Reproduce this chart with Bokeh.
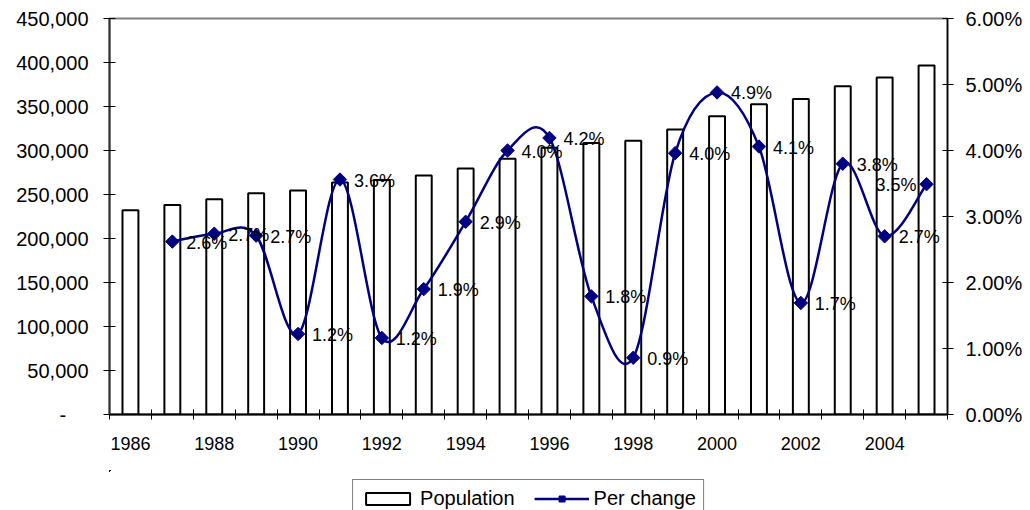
import numpy as np
from bokeh.plotting import figure
from bokeh.layouts import column
from bokeh.models import (Range1d, LinearAxis, FixedTicker, PrintfTickFormatter,
                          NumeralTickFormatter, Legend, LegendItem, ColumnDataSource)
from bokeh.core.properties import value
from bokeh.embed import file_html
from bokeh.resources import INLINE

# ---- data -------------------------------------------------------------
years = list(range(1986, 2006))
population = [232000, 238000, 244500, 251500, 254500, 263500, 266500, 271500,
              279500, 290500, 303000, 308500, 311000, 324000, 339000, 352500,
              358500, 373000, 383000, 396500]
# yearly percentage change (no value for the first year)
per_change = [None, 2.62, 2.74, 2.71, 1.22, 3.56, 1.16, 1.90, 2.92, 4.00,
              4.19, 1.79, 0.86, 3.96, 4.88, 4.06, 1.69, 3.80, 2.70, 3.49]
tick_years = years[::2]

FONT = "Liberation Sans"
NAVY = "#000080"

n = len(years)
xs = [i + 0.5 for i in range(n)]

bar_src = ColumnDataSource(dict(x=xs, top=population))
px = np.array([xs[i] for i in range(n) if per_change[i] is not None])
py = np.array([v for v in per_change if v is not None])
labels = [f"{v:.1f}%" for v in py]
pt_src = ColumnDataSource(dict(x=px, y=py))

p = figure(width=1030, height=470, output_backend="svg", toolbar_location=None,
           x_range=Range1d(0, n), y_range=Range1d(0, 450000),
           min_border_left=109, min_border_right=83, min_border_top=18,
           min_border_bottom=56)
p.extra_y_ranges = {"pct": Range1d(0, 6)}
p.xgrid.visible = False
p.ygrid.visible = False
p.outline_line_color = "#808080"
p.outline_line_width = 2
p.background_fill_color = "white"
p.border_fill_color = "white"

# ---- population bars ----------------------------------------------------
p.vbar(x="x", top="top", width=0.38, source=bar_src,
       fill_color="white", line_color="black", line_width=2)

# ---- smoothed percentage-change curve ---------------------------------
m = len(px)
x0, y0, x1, y1, cx0, cy0, cx1, cy1 = ([] for _ in range(8))
for k in range(m - 1):
    a = max(k - 1, 0)
    d = min(k + 2, m - 1)
    x0.append(px[k]); y0.append(py[k])
    x1.append(px[k + 1]); y1.append(py[k + 1])
    cx0.append(px[k] + (px[k + 1] - px[a]) / 6)
    cy0.append(py[k] + (py[k + 1] - py[a]) / 6)
    cx1.append(px[k + 1] - (px[d] - px[k]) / 6)
    cy1.append(py[k + 1] - (py[d] - py[k]) / 6)
curve_src = ColumnDataSource(dict(x0=x0, y0=y0, x1=x1, y1=y1,
                                  cx0=cx0, cy0=cy0, cx1=cx1, cy1=cy1))
p.bezier(x0="x0", y0="y0", x1="x1", y1="y1", cx0="cx0", cy0="cy0",
         cx1="cx1", cy1="cy1", source=curve_src, y_range_name="pct",
         line_color=NAVY, line_width=2.5)
p.scatter(x="x", y="y", source=pt_src, y_range_name="pct",
          marker="square", angle=np.pi / 4, size=9.5,
          fill_color=NAVY, line_color=NAVY)

# value labels to the right of each point; the last one sits next to the
# right axis, so it goes on the left of its point to stay inside the frame
inner_src = ColumnDataSource(dict(x=px[:-1], y=py[:-1], label=labels[:-1]))
p.text(x="x", y="y", text="label", source=inner_src, y_range_name="pct",
       x_offset=14, y_offset=1, text_baseline="middle", text_align="left",
       text_font=value(FONT), text_font_size="18px", text_color="black")
last_src = ColumnDataSource(dict(x=px[-1:], y=py[-1:], label=labels[-1:]))
p.text(x="x", y="y", text="label", source=last_src, y_range_name="pct",
       x_offset=-10, y_offset=1, text_baseline="middle", text_align="right",
       text_font=value(FONT), text_font_size="18px", text_color="black")

# ---- axes ----------------------------------------------------------------
xa = p.xaxis[0]
xa.ticker = FixedTicker(ticks=[xs[years.index(y)] for y in tick_years],
                        minor_ticks=list(range(n + 1)))
xa.major_label_overrides = {xs[years.index(y)]: str(y) for y in tick_years}
xa.major_tick_in = 0
xa.major_tick_out = 0
xa.minor_tick_in = 5
xa.minor_tick_out = 5
xa.minor_tick_line_color = "black"
xa.minor_tick_line_width = 1
xa.major_label_standoff = 17
xa.major_label_text_font = FONT
xa.major_label_text_font_size = "18px"
xa.major_label_text_color = "black"
xa.axis_line_color = "black"
xa.axis_line_width = 2

ya = p.yaxis[0]
ya.ticker = FixedTicker(ticks=list(range(0, 450001, 50000)))
ya.formatter = NumeralTickFormatter(format="0,0")
ya.major_label_overrides = {0: "-\u2007\u2007"}
ya.major_tick_in = 6
ya.major_tick_out = 6
ya.minor_tick_line_color = None
ya.major_label_standoff = 15
ya.major_label_text_font = FONT
ya.major_label_text_font_size = "20px"
ya.major_label_text_color = "black"
ya.axis_line_color = "#333333"
ya.axis_line_width = 2
ya.major_tick_line_color = "black"

ra = LinearAxis(y_range_name="pct", ticker=FixedTicker(ticks=list(range(0, 7))),
                formatter=PrintfTickFormatter(format="%.2f%%"))
ra.major_tick_in = 5
ra.major_tick_out = 6
ra.minor_tick_line_color = None
ra.major_label_standoff = 12
ra.major_label_text_font = FONT
ra.major_label_text_font_size = "20px"
ra.major_label_text_color = "black"
ra.axis_line_color = "black"
ra.axis_line_width = 1.5
p.add_layout(ra, "right")

# ---- legend strip under the chart ------------------------------------------
# the series are repeated here with ranges that lie beyond all of their
# values, so only their legend entries show
top_pop = max(population)
lg = figure(width=1030, height=40, output_backend="svg", toolbar_location=None,
            x_axis_type=None, y_axis_type=None,
            x_range=Range1d(n + 1, n + 2), y_range=Range1d(-2 * top_pop, -top_pop),
            min_border_left=29, min_border_right=0, min_border_top=0,
            min_border_bottom=0)
lg.outline_line_color = None
lg.xgrid.visible = False
lg.ygrid.visible = False
lg_bars = lg.vbar(x="x", top="top", width=0.38, source=bar_src,
                  fill_color="white", line_color="black", line_width=2)
lg_line = lg.line(x="x", y="y", source=pt_src, line_color=NAVY, line_width=2.5)
lg_pts = lg.scatter(x="x", y="y", source=pt_src, marker="square",
                    angle=np.pi / 4, fill_color=NAVY, line_color=NAVY)

legend = Legend(items=[LegendItem(label="Population", renderers=[lg_bars]),
                       LegendItem(label="Per change", renderers=[lg_line, lg_pts])],
                orientation="horizontal", location="top_center",
                label_text_font=FONT, label_text_font_size="20px",
                label_text_color="black", glyph_width=55, glyph_height=15,
                label_standoff=5, spacing=19, padding=7, margin=9,
                border_line_color="black", border_line_width=1,
                background_fill_color="white", background_fill_alpha=1)
lg.add_layout(legend)

open("out.html", "w").write(file_html(column(p, lg, spacing=0), INLINE))
